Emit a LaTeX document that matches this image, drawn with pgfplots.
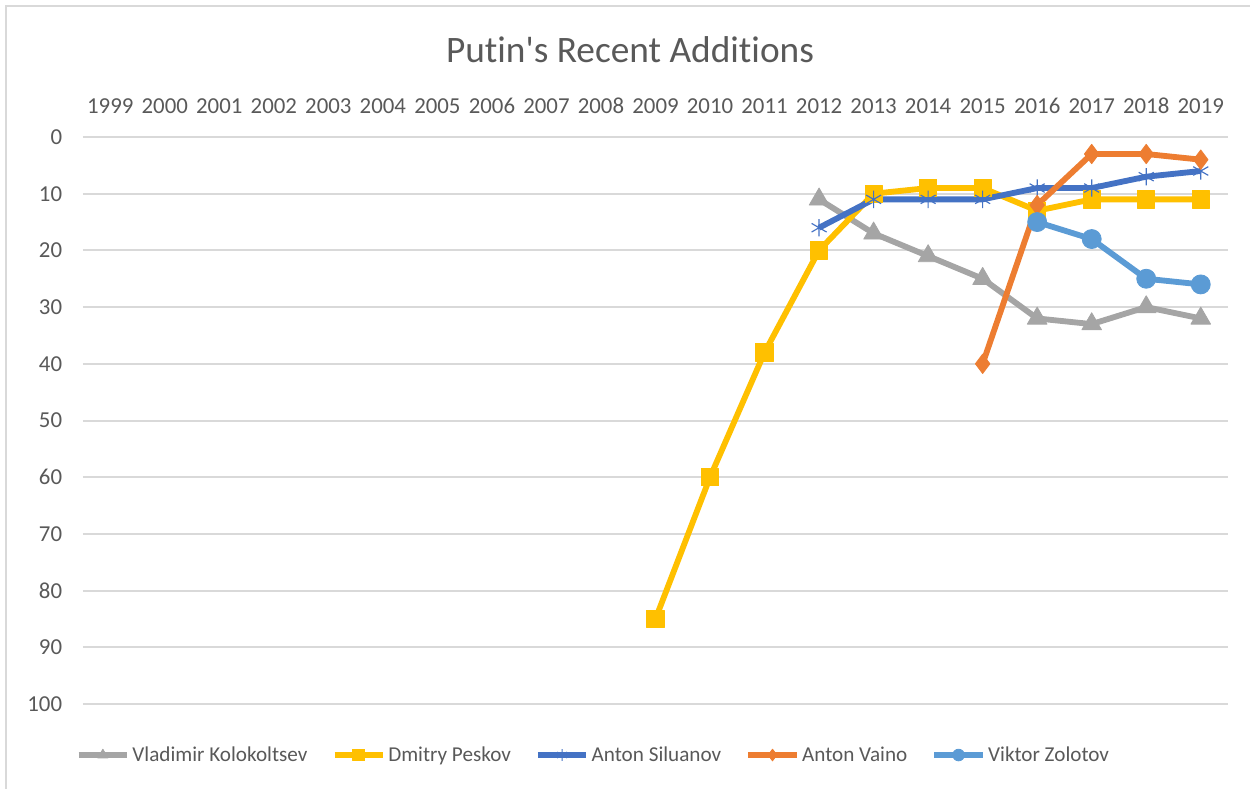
\documentclass[border=0pt]{standalone}
\usepackage{fontspec}
\setmainfont{Carlito}[Ligatures=NoCommon]
\usepackage{pgfplots}
\pgfplotsset{compat=1.18}

\definecolor{txt}{HTML}{595959}
\definecolor{gridc}{HTML}{D9D9D9}
\definecolor{frame}{HTML}{D9D9D9}
\definecolor{sgray}{HTML}{A5A5A5}
\definecolor{syellow}{HTML}{FFC000}
\definecolor{sblue}{HTML}{4472C4}
\definecolor{sorange}{HTML}{ED7D31}
\definecolor{slblue}{HTML}{5B9BD5}

\begin{document}
\begin{tikzpicture}
% canvas and chart-area border (top and left edges)
\path[use as bounding box] (0pt,0pt) rectangle (750pt,473.4pt);
\draw[frame,line width=1.5pt] (3.6pt,0pt) -- (3.6pt,469.8pt) -- (750pt,469.8pt);
\node[txt,font=\fontsize{22.4}{26}\selectfont] at (378pt,443.4pt) {Putin\textquotesingle s Recent Additions};

\begin{axis}[
  at={(49.8pt,51pt)}, anchor=south west,
  scale only axis, width=687pt, height=340.2pt,
  xmin=-0.5, xmax=20.5, ymin=0, ymax=100,
  y dir=reverse,
  axis line style={draw=none},
  xtick={0,...,20},
  xticklabels={1999,2000,2001,2002,2003,2004,2005,2006,2007,2008,2009,2010,2011,2012,2013,2014,2015,2016,2017,2018,2019},
  xticklabel pos=upper,
  ytick={0,10,...,100},
  major tick length=0pt,
  ymajorgrids, grid style={gridc,line width=1.2pt},
  /pgf/number format/assume math mode=true,
  ticklabel style={txt,font=\fontsize{13.7}{16}\selectfont},
  yticklabel style={xshift=-9pt},
  xticklabel style={yshift=10.5pt},
  legend columns=5,
  legend style={draw=none, fill=none, at={(0.446,-0.09)}, anchor=center,
    font=\fontsize{12.7}{15}\selectfont, text=txt,
    nodes={inner xsep=1.5pt},
    /tikz/every even column/.append style={column sep=13pt}},
  legend image code/.code={
    \draw[mark repeat=2,mark phase=2,mark size=3.5pt]
      plot coordinates {(0pt,0pt) (14.5pt,0pt) (29pt,0pt)};},
  every axis plot/.append style={line width=3.5pt, line join=round},
]
\addplot[sgray, mark=triangle*, mark size=6.8pt, mark options={solid,line width=0.5pt}]
  coordinates {(13,11) (14,17) (15,21) (16,25) (17,32) (18,33) (19,30) (20,32)};
\addlegendentry{Vladimir Kolokoltsev}

\addplot[syellow, mark=square*, mark size=5.2pt, mark options={solid,line width=0.5pt}]
  coordinates {(10,85) (11,60) (12,38) (13,20) (14,10) (15,9) (16,9) (17,13) (18,11) (19,11) (20,11)};
\addlegendentry{Dmitry Peskov}

\addplot[sblue, mark=asterisk, mark size=5.2pt, mark options={solid,line width=0.7pt}]
  coordinates {(13,16) (14,11) (15,11) (16,11) (17,9) (18,9) (19,7) (20,6)};
\addlegendentry{Anton Siluanov}

\addplot[sorange, mark=diamond*, mark size=5.8pt, mark options={solid,line width=0.5pt}]
  coordinates {(16,40) (17,12) (18,3) (19,3) (20,4)};
\addlegendentry{Anton Vaino}

\addplot[slblue, mark=*, mark size=5.7pt, mark options={solid,line width=0.5pt}]
  coordinates {(17,15) (18,18) (19,25) (20,26)};
\addlegendentry{Viktor Zolotov}
\end{axis}
\end{tikzpicture}
\end{document}
